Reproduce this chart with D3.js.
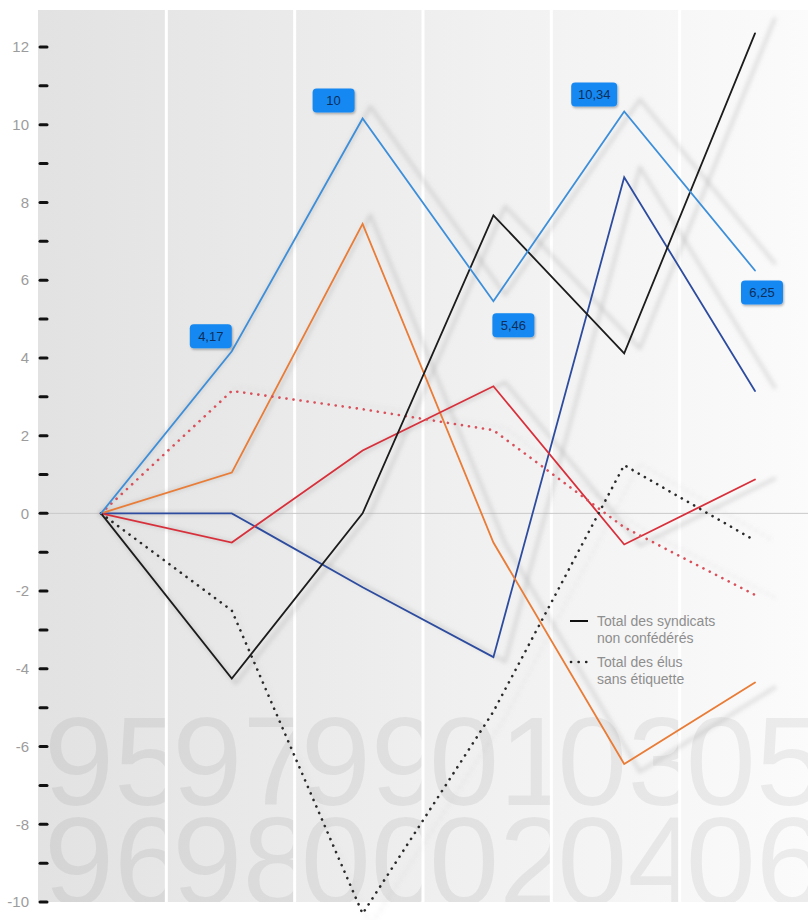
<!DOCTYPE html>
<html>
<head>
<meta charset="utf-8">
<script src="https://cdn.jsdelivr.net/npm/d3@7"></script>
<style>
  body { margin: 0; background: #fff; }
  text { font-family: "Liberation Sans", Arial, sans-serif; }
</style>
</head>
<body>
<div id="vis"></div>
<script>
// periods (one background panel per period)
const categories = ['95-96', '97-98', '99-00', '01-02', '03-04', '05-06']
const yearsTop = ['95', '97', '99', '01', '03', '05']
const yearsBottom = ['96', '98', '00', '02', '04', '06']

// series values
const bleuClair = [0, 4.17, 10.16, 5.46, 10.34, 6.25]
const orange = [0, 1.05, 7.45, -0.75, -6.45, -4.35]
const rouge = [0, -0.75, 1.62, 3.27, -0.8, 0.87]
const bleuFonce = [0, 0, -1.9, -3.7, 8.65, 3.15]
const noir = [0, -4.25, 0, 7.67, 4.12, 12.35]
const rougePointille = [0, 3.15, 2.68, 2.14, -0.36, -2.1]
const noirPointille = [0, -2.5, -10.3, -5.1, 1.24, -0.7]

// value labels on the light blue line
const etiquettes = ['', '4,17', '10', '5,46', '10,34', '6,25']

const yTicks = d3.range(-10, 13, 1)

const series = [
    { values: bleuFonce, color: '#2d4c9f', dotted: false },
    { values: orange, color: '#e97c36', dotted: false },
    { values: rouge, color: '#d8303b', dotted: false },
    { values: rougePointille, color: '#d9505b', dotted: true },
    { values: noirPointille, color: '#2a2a2a', dotted: true },
    { values: noir, color: '#1c1c1c', dotted: false },
    { values: bleuClair, color: '#3d8fda', dotted: false }
]

const W = 808, H = 920
const svg = d3.select('#vis').append('svg')
    .attr('width', W).attr('height', H)

const panelTop = 10, panelBottom = 902

const band = d3.scaleBand().domain(categories).range([38, 808]).paddingInner(0)
const xScale = d3.scalePoint().domain(categories).range([101, 755])
const yScale = d3.scaleLinear().domain([-10, 12]).range([902, 47])

const defs = svg.append('defs')
const grad = defs.append('linearGradient').attr('id', 'bg')
    .attr('x1', 0).attr('x2', 1).attr('y1', 0).attr('y2', 0)
grad.append('stop').attr('offset', '0%').attr('stop-color', '#e2e2e2')
grad.append('stop').attr('offset', '100%').attr('stop-color', '#fbfbfb')

defs.append('filter').attr('id', 'blur')
    .attr('x', '-10%').attr('y', '-10%').attr('width', '120%').attr('height', '120%')
    .append('feGaussianBlur').attr('stdDeviation', 2)

const lblShadow = defs.append('filter').attr('id', 'lblshadow')
    .attr('x', '-20%').attr('y', '-20%').attr('width', '140%').attr('height', '160%')
lblShadow.append('feDropShadow').attr('dx', 1).attr('dy', 1.5)
    .attr('stdDeviation', 1.2).attr('flood-color', '#000').attr('flood-opacity', 0.3)

// background
svg.append('rect')
    .attr('x', 38).attr('y', panelTop)
    .attr('width', 808 - 38).attr('height', panelBottom - panelTop)
    .attr('fill', 'url(#bg)')

// big year numbers, clipped to their panel
categories.forEach((c, i) => {
    defs.append('clipPath').attr('id', 'clip' + i)
        .append('rect')
        .attr('x', band(c)).attr('y', panelTop)
        .attr('width', band.bandwidth()).attr('height', panelBottom - panelTop)
    const g = svg.append('g').attr('clip-path', `url(#clip${i})`)
    g.append('text')
        .attr('x', band(c) + 6).attr('y', 805)
        .style('font-size', '126px')
        .attr('fill', '#000').attr('fill-opacity', 0.06)
        .text(yearsTop[i])
    g.append('text')
        .attr('x', band(c) + 6).attr('y', 905)
        .style('font-size', '126px')
        .attr('fill', '#000').attr('fill-opacity', 0.06)
        .text(yearsBottom[i])
})

// white separators between panels
svg.selectAll('.sep')
    .data(categories.slice(1))
    .join('line')
    .attr('class', 'sep')
    .attr('x1', d => band(d)).attr('x2', d => band(d))
    .attr('y1', panelTop).attr('y2', panelBottom)
    .attr('stroke', '#fff').attr('stroke-width', 3)

// zero line
svg.append('line')
    .attr('x1', 38).attr('x2', 808)
    .attr('y1', yScale(0)).attr('y2', yScale(0))
    .attr('stroke', '#c9c9c9').attr('stroke-width', 1)

// y axis
const yAxis = d3.axisLeft(yScale)
    .tickValues(yTicks)
    .tickSize(0)
    .tickFormat(d => d % 2 === 0 ? d : '')
const axisG = svg.append('g')
    .attr('transform', 'translate(29,0)')
    .call(yAxis)
axisG.select('.domain').remove()
axisG.selectAll('text')
    .attr('x', 0)
    .style('font-size', '15px')
    .style('font-family', '"Liberation Sans", Arial, sans-serif')
    .attr('fill', '#9c9c9c')
svg.selectAll('.tickmark')
    .data(yTicks)
    .join('line')
    .attr('class', 'tickmark')
    .attr('x1', 40).attr('x2', 47)
    .attr('y1', d => yScale(d)).attr('y2', d => yScale(d))
    .attr('stroke', '#111').attr('stroke-width', 3)
    .attr('stroke-linecap', 'round')

const line = d3.line()
    .x((d, i) => xScale(categories[i]))
    .y(d => yScale(d))

// shadows: slightly enlarged copies around the origin point
const ox = xScale(categories[0]), oy = yScale(0), k = 1.03
const shadowG = svg.append('g')
    .attr('transform', `translate(${ox},${oy}) scale(${k}) translate(${-ox},${-oy})`)
    .attr('filter', 'url(#blur)')
shadowG.selectAll('path')
    .data(series)
    .join('path')
    .attr('d', d => line(d.values))
    .attr('fill', 'none')
    .attr('stroke', '#9a9a9a')
    .attr('stroke-opacity', d => d.dotted ? 0.2 : 0.3)
    .attr('stroke-width', d => d.dotted ? 3 : 3.5)
    .attr('stroke-linecap', 'round')
    .attr('stroke-linejoin', 'round')
    .attr('stroke-dasharray', d => d.dotted ? '0.1 7' : null)

// lines
svg.selectAll('.serie')
    .data(series)
    .join('path')
    .attr('class', 'serie')
    .attr('d', d => line(d.values))
    .attr('fill', 'none')
    .attr('stroke', d => d.color)
    .attr('stroke-width', d => d.dotted ? 2.6 : 1.8)
    .attr('stroke-linecap', 'round')
    .attr('stroke-linejoin', 'miter')
    .attr('stroke-dasharray', d => d.dotted ? '0.1 7' : null)

// value labels
const labelOffsets = [null, [-21, -15], [-29, -18], [20, 24], [-30, -17], [7, 22]]
const labels = bleuClair.map((v, i) => ({ v, i, text: etiquettes[i] })).filter(d => d.text)
const lblG = svg.selectAll('.lbl')
    .data(labels)
    .join('g')
    .attr('class', 'lbl')
    .attr('transform', d => `translate(${xScale(categories[d.i]) + labelOffsets[d.i][0]},${yScale(d.v) + labelOffsets[d.i][1]})`)
lblG.append('rect')
    .attr('x', d => d.text.length > 4 ? -23 : -21)
    .attr('y', -12)
    .attr('width', d => d.text.length > 4 ? 46 : 42)
    .attr('height', 24)
    .attr('rx', 4)
    .attr('fill', '#1688f2')
    .attr('filter', 'url(#lblshadow)')
lblG.append('text')
    .attr('text-anchor', 'middle')
    .attr('dy', '0.35em')
    .style('font-size', '13px')
    .attr('fill', '#0d2f5a')
    .text(d => d.text)

// legend
const legend = svg.append('g').attr('transform', 'translate(570,621)')
legend.append('line')
    .attr('x1', 0).attr('x2', 18).attr('y1', 0).attr('y2', 0)
    .attr('stroke', '#111').attr('stroke-width', 2)
legend.append('line')
    .attr('x1', 1).attr('x2', 19).attr('y1', 41).attr('y2', 41)
    .attr('stroke', '#222').attr('stroke-width', 2.6)
    .attr('stroke-linecap', 'round').attr('stroke-dasharray', '0.1 7.5')
const legendLines = [
    ['Total des syndicats', 5], ['non confédérés', 22],
    ['Total des élus', 46], ['sans étiquette', 63]
]
legend.selectAll('.lt')
    .data(legendLines)
    .join('text')
    .attr('class', 'lt')
    .attr('x', 27).attr('y', d => d[1])
    .style('font-size', '14px')
    .attr('fill', '#8e8e8e')
    .text(d => d[0])
</script>
</body>
</html>
